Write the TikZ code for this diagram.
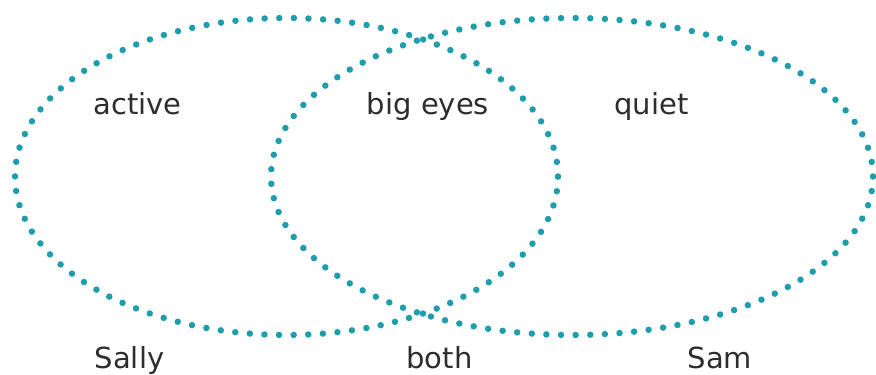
\documentclass[tikz,border=0pt]{standalone}
\usepackage{fontspec}
\setmainfont{DejaVu Sans}
\definecolor{dotteal}{RGB}{30,158,172}
\definecolor{txtgray}{RGB}{45,45,45}
\begin{document}
\begin{tikzpicture}[x=1pt,y=1pt,
  ring/.style={draw=dotteal, line width=6.5pt, line cap=round},
  lbl/.style={anchor=base, inner sep=0pt, font=\fontsize{29}{32}\selectfont, text=txtgray}]
\useasboundingbox (0,0) rectangle (876,375);
\draw[ring, dash pattern=on 0pt off 14.62pt] (286.5,198.5) ellipse [x radius=271.5, y radius=158.5];
\draw[ring, dash pattern=on 0pt off 14.64pt] (572,198.5) ellipse [x radius=301, y radius=158.5];
\node[lbl] (active) at (137.5,260) {active};
\node[lbl] (bigeyes) at (428,260) {big eyes};
\node[lbl] (quiet) at (651.5,260) {quiet};
\node[lbl] (sally) at (129.5,6) {Sally};
\node[lbl] (both) at (439.5,6) {both};
\node[lbl] (sam) at (720,6) {Sam};
\end{tikzpicture}
\end{document}
